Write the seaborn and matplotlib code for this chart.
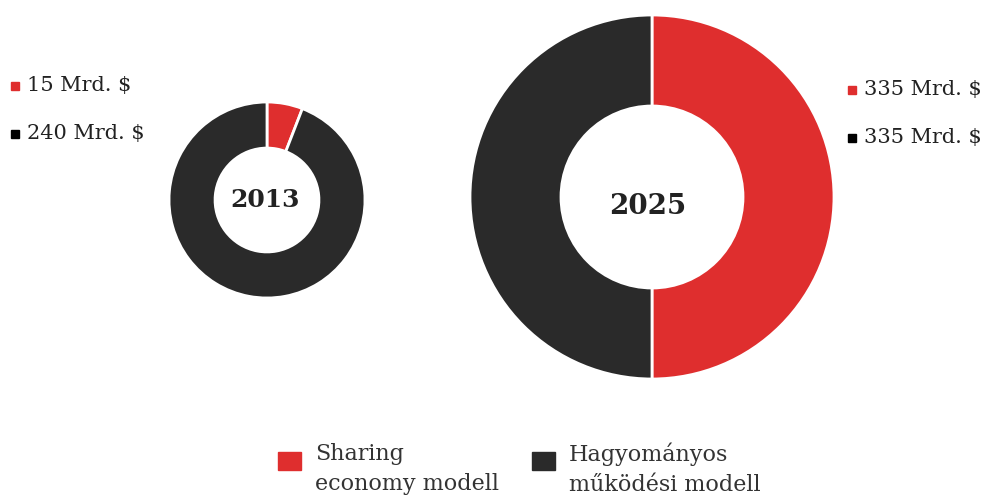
import matplotlib
matplotlib.use("Agg")
import matplotlib.pyplot as plt
import seaborn as sns
from matplotlib.patches import Rectangle

sns.set_theme(style="white")
plt.rcParams['font.family'] = ['DejaVu Serif']

years = ["2013", "2025"]
sharing = [15, 335]
traditional = [240, 335]
value_labels_sharing = ["15 Mrd. $", "335 Mrd. $"]
value_labels_trad = ["240 Mrd. $", "335 Mrd. $"]
legend_labels = ["Sharing\neconomy modell", "Hagyományos\nműködési modell"]
colors = ["#DF2E2E", "#2A2A2A"]

W, H = 993, 496
fig = plt.figure(figsize=(W / 100, H / 100), dpi=100)
ax = fig.add_axes([0, 0, 1, 1])

def Y(y):
    return H - y

# donut geometry (pixels)
centers = [(267, 200), (652, 197)]
radii = [98, 182]
widths = [0.47, 0.5]
year_pos = [(265, 200), (648, 207)]
year_size = [18, 20]

for i in range(2):
    cx, cy = centers[i]
    ax.pie([sharing[i], traditional[i]], colors=colors, startangle=90,
           counterclock=False, center=(cx, Y(cy)), radius=radii[i],
           wedgeprops=dict(width=radii[i] * widths[i], edgecolor="white", linewidth=2))
    ax.text(year_pos[i][0], Y(year_pos[i][1]), years[i], ha="center", va="center",
            fontsize=year_size[i], fontweight="bold", color="#222222")

# value labels
lab_pos = [((15, 86), (15, 134)), ((852, 90), (852, 138))]
for i in range(2):
    (x1, y1), (x2, y2) = lab_pos[i]
    ax.add_patch(Rectangle((x1 - 4, Y(y1) - 4), 8, 8, color=colors[0]))
    ax.add_patch(Rectangle((x2 - 4, Y(y2) - 4), 8, 8, color="black"))
    ax.text(x1 + 12, Y(y1), value_labels_sharing[i], ha="left", va="center",
            fontsize=15, color="#222222")
    ax.text(x2 + 12, Y(y2), value_labels_trad[i], ha="left", va="center",
            fontsize=15, color="#222222")

# legend
leg_sq = [(289, 461), (543, 461)]
for i in range(2):
    sx, sy = leg_sq[i]
    ax.add_patch(Rectangle((sx - 11.5, Y(sy) - 9), 23, 18, color=colors[i]))
    ax.text(sx + 26, Y(469), legend_labels[i], ha="left", va="center",
            fontsize=16, color="#333333", linespacing=1.5)

ax.set_xlim(0, W)
ax.set_ylim(0, H)
ax.set_aspect("equal")
ax.axis("off")
fig.savefig("out.png", dpi=100)
